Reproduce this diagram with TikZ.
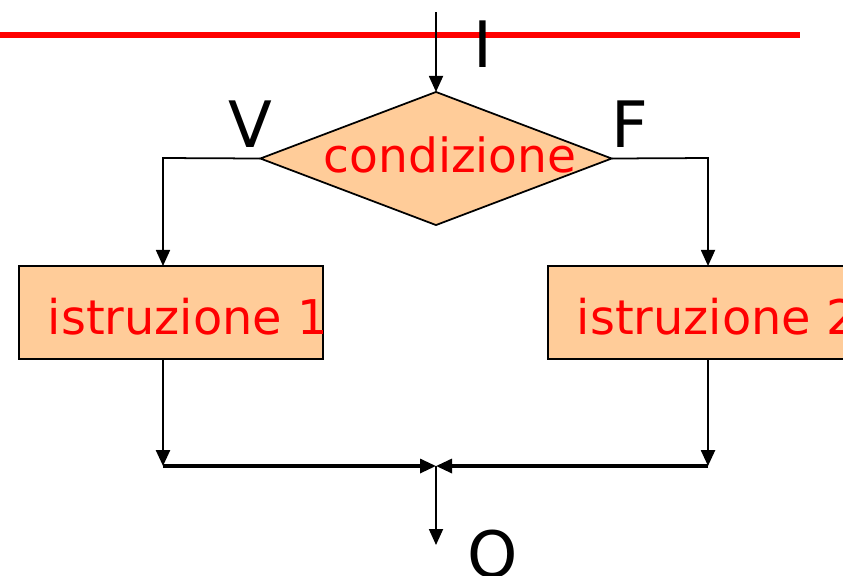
\documentclass[tikz,border=0pt]{standalone}
\usepackage{fontspec}
\setmainfont{DejaVu Sans}
\usetikzlibrary{positioning, arrows.meta, calc, shapes.geometric}
\definecolor{pesca}{HTML}{FFCC99}

\begin{document}
\begin{tikzpicture}[x=0.01cm,y=-0.01cm,>={Triangle[length=1.6mm,width=1.4mm]},
  rombo/.style={draw,shape=diamond,fill=pesca,inner sep=0pt,outer sep=0pt,line width=0.5pt,minimum width=3.51cm,minimum height=1.33cm},
  blocco/.style={draw,rectangle,fill=pesca,inner sep=0pt,outer sep=0pt,line width=0.6pt,minimum width=3.04cm,minimum height=0.93cm,text=red,font=\fontsize{13.6}{15}\selectfont},
  testo/.style={inner sep=0pt,text=red,font=\fontsize{13.4}{15}\selectfont},
  etic/.style={inner sep=0pt,font=\fontsize{18.2}{20}\selectfont},
  filo/.style={line width=0.5pt}]
  \useasboundingbox (0,0) rectangle (843,575);
  \clip (0,0) rectangle (843,575);
  \draw[red,line width=1.6pt] (0,35) -- (800,35);
  % selezione
  \coordinate (inp) at (436,12);
  \node[rombo](cond) at (436,158.5){};\node[testo](condtxt) at (450,155){condizione};
  \node[etic](I) at (483,44.5){I};\node[etic](V) at (250,124){V};\node[etic](F) at (630,124){F};
  \coordinate (vL) at (163,158);\coordinate (vR) at (708,158);
  \node[blocco](b1) at (171,312.5){\raisebox{-0.215cm}[0pt][0pt]{\makebox[2.46cm][l]{istruzione 1}}};
  \node[blocco](b2) at (700,312.5){\raisebox{-0.215cm}[0pt][0pt]{\makebox[2.46cm][l]{istruzione 2}}};
  \coordinate (jL) at (163,466);\coordinate (jR) at (708,466);\coordinate (m) at (436,466);
  \coordinate (out) at (436,545);
  \node[etic](O) at (493,554){O};
  \draw[filo,->](inp)--(cond.north);
  \draw[filo,->](cond.west)--(vL)--(vL |- b1.north);
  \draw[filo,->](cond.east)--(vR)--(vR |- b2.north);
  \draw[line width=0.7pt,->](vL |- b1.south)--(jL);\draw[line width=0.7pt,->](vR |- b2.south)--(jR);
  \draw[line width=0.9pt,->](jL)--(m);\draw[line width=0.9pt,->](jR)--(m);
  \draw[filo,->](m)--(out);
\end{tikzpicture}
\end{document}
